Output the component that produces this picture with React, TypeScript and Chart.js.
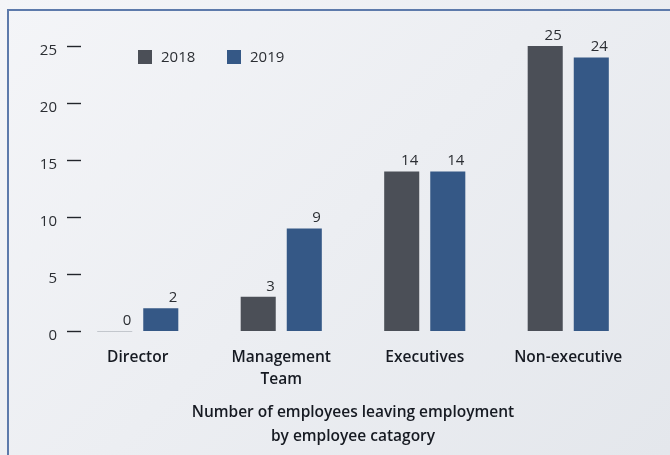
import React, { useEffect, useRef } from "react";
import { Chart, registerables } from "chart.js";

Chart.register(...registerables);

const categories: (string | string[])[] = ["Director", ["Management", "Team"], "Executives", "Non-executive"];
const seriesLabels = ["2018", "2019"];
const values2018 = [0, 3, 14, 25];
const values2019 = [2, 9, 14, 24];
const seriesColors = ["#4b4f57", "#355886"];
const yTicks = [0, 5, 10, 15, 20, 25];
const axisTitle = ["Number of employees leaving employment", "by employee catagory"];

const FONT = "'Open Sans', 'Noto Sans', sans-serif";

const decorPlugin = {
  id: "decor",
  afterDatasetsDraw(chart: any) {
    const ctx = chart.ctx;
    const y = chart.scales.y;
    ctx.save();
    // y tick dashes
    ctx.strokeStyle = "#22252b";
    ctx.lineWidth = 1.4;
    y.ticks.forEach((t: any) => {
      const py = Math.round(y.getPixelForValue(t.value)) + 0.5;
      ctx.beginPath();
      ctx.moveTo(chart.chartArea.left + 1, py);
      ctx.lineTo(chart.chartArea.left + 15, py);
      ctx.stroke();
    });
    // value labels & zero bars
    chart.data.datasets.forEach((ds: any, di: number) => {
      const meta = chart.getDatasetMeta(di);
      meta.data.forEach((bar: any, i: number) => {
        const v = ds.data[i];
        const right = bar.x + bar.width / 2;
        if (v === 0) {
          ctx.strokeStyle = "#c3c7cd";
          ctx.lineWidth = 1;
          ctx.beginPath();
          ctx.moveTo(bar.x - bar.width / 2, bar.base + 0.5);
          ctx.lineTo(right, bar.base + 0.5);
          ctx.stroke();
        }
        ctx.fillStyle = "#2b2e33";
        ctx.font = `400 15px ${FONT}`;
        ctx.textAlign = "right";
        ctx.textBaseline = "alphabetic";
        ctx.fillText(String(v), right - 1, bar.y - 6);
      });
    });
    // legend
    const lx = [138, 227];
    chart.data.datasets.forEach((ds: any, di: number) => {
      ctx.fillStyle = ds.backgroundColor;
      ctx.fillRect(lx[di], 50, 14, 14);
      ctx.fillStyle = "#2b2e33";
      ctx.font = `400 15px ${FONT}`;
      ctx.textAlign = "left";
      ctx.textBaseline = "middle";
      ctx.fillText(ds.label, lx[di] + 23, 58);
    });
    ctx.restore();
  },
};

export default function App() {
  const ref = useRef<HTMLCanvasElement | null>(null);
  useEffect(() => {
    document.body.style.margin = "0";
    const chart = new Chart(ref.current as HTMLCanvasElement, {
      type: "bar",
      data: {
        labels: categories as any,
        datasets: [
          { label: seriesLabels[0], data: values2018, backgroundColor: seriesColors[0] },
          { label: seriesLabels[1], data: values2019, backgroundColor: seriesColors[1] },
        ],
      },
      options: {
        animation: false,
        responsive: false,
        layout: { padding: { top: 46, right: 30, left: 0, bottom: 0 } },
        datasets: { bar: { categoryPercentage: 0.642, barPercentage: 0.761 } },
        plugins: { legend: { display: false }, tooltip: { enabled: false } },
        scales: {
          x: {
            grid: { display: false, drawTicks: false },
            border: { display: false },
            ticks: {
              padding: 15,
              color: "#161a22",
              font: { family: FONT, size: 15.5, weight: 600 as any, lineHeight: 1.45 },
              maxRotation: 0,
            },
            title: {
              display: true,
              text: axisTitle,
              color: "#161a22",
              font: { family: FONT, size: 15.5, weight: 600 as any, lineHeight: 1.55 },
              padding: { top: 0, bottom: 6 },
            },
            afterFit(scale: any) {
              scale.height = 124;
            },
          },
          y: {
            min: 0,
            max: 25,
            grid: { display: false, drawTicks: false },
            border: { display: false },
            afterBuildTicks(scale: any) {
              scale.ticks = yTicks.map((v) => ({ value: v }));
            },
            ticks: {
              padding: 9,
              labelOffset: 5,
              color: "#2b2e33",
              font: { family: FONT, size: 15, weight: 400 as any },
            },
            afterFit(scale: any) {
              scale.width = 66;
            },
          },
        },
      },
      plugins: [decorPlugin],
    });
    return () => chart.destroy();
  }, []);
  return (
    <div
      style={{
        position: "relative",
        width: 670,
        height: 455,
        overflow: "hidden",
        background: "linear-gradient(135deg, #f4f5f8 0%, #eceef2 50%, #e4e7ec 100%)",
      }}
    >
      <div
        style={{
          position: "absolute",
          left: 7,
          top: 9,
          right: -10,
          bottom: -10,
          borderLeft: "2px solid #5d7aab",
          borderTop: "2px solid #5d7aab",
        }}
      />
      <canvas ref={ref} width={670} height={455} style={{ position: "absolute", left: 0, top: 0 }} />
    </div>
  );
}
